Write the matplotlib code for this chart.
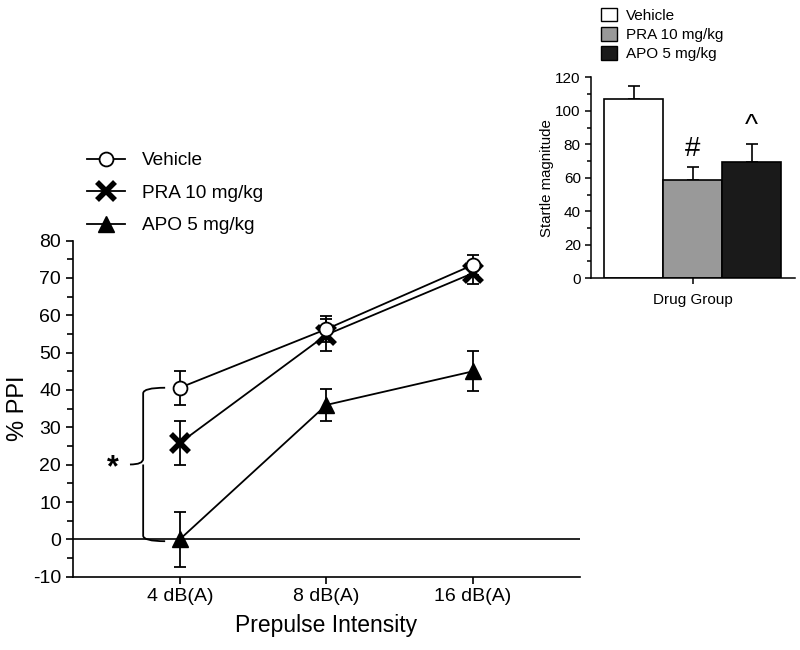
import matplotlib
matplotlib.use("Agg")
import matplotlib.pyplot as plt
import numpy as np
from matplotlib.path import Path
from matplotlib.patches import PathPatch, Patch
from matplotlib.lines import Line2D

plt.rcParams['font.family'] = ['Liberation Sans', 'DejaVu Sans']
plt.rcParams['axes.unicode_minus'] = False

# ---- data ----
intensities = ["4 dB(A)", "8 dB(A)", "16 dB(A)"]
vehicle_ppi = [40.6, 56.3, 73.5]
vehicle_err = [4.5, 3.5, 2.7]
pra_ppi = [25.8, 54.8, 71.3]
pra_err = [6.0, 4.3, 3.0]
apo_ppi = [0.0, 36.0, 45.0]
apo_err = [7.3, 4.2, 5.4]

groups = ["Vehicle", "PRA 10 mg/kg", "APO 5 mg/kg"]
startle = [107, 58.7, 69.4]
startle_err = [8, 7.6, 10.6]
bar_colors = ["white", "#999999", "#1a1a1a"]
bar_marks = ["", "#", "^"]

fig = plt.figure(figsize=(8, 6.5), dpi=100)
ax = fig.add_axes([0.091, 0.1128, 0.634, 0.517])

x = np.arange(len(intensities))
lw = 1.3
ebkw = dict(fmt='none', ecolor='black', elinewidth=lw, capsize=4, capthick=lw)
ax.errorbar(x, apo_ppi, yerr=apo_err, zorder=2, **ebkw)
ax.errorbar(x, pra_ppi, yerr=pra_err, zorder=2, **ebkw)
ax.errorbar(x, vehicle_ppi, yerr=vehicle_err, zorder=2, **ebkw)
ax.plot(x, apo_ppi, color='black', marker='^', ms=12, mfc='black', mec='black', lw=lw, zorder=3)
ax.plot(x, pra_ppi, color='black', marker='x', ms=13, mew=4, lw=lw, zorder=4)
ax.plot(x, vehicle_ppi, color='black', marker='o', ms=10, mfc='white', mec='black',
        mew=1.3, lw=lw, zorder=5)

ax.axhline(0, color='black', lw=1.2, zorder=1)
ax.set_xlim(-0.73, 2.73)
ax.set_ylim(-10, 80)
ax.set_yticks(np.arange(-10, 81, 10))
ax.set_yticks(np.arange(-10, 81, 5), minor=True)
ax.set_xticks(x)
ax.set_xticklabels(intensities)
ax.spines['top'].set_visible(False)
ax.spines['right'].set_visible(False)
ax.spines['left'].set_linewidth(1.2)
ax.spines['bottom'].set_linewidth(1.2)
ax.tick_params(axis='both', which='major', labelsize=14, length=5, width=1.2)
ax.tick_params(axis='y', which='minor', length=4, width=1.2)
ax.set_xlabel("Prepulse Intensity", fontsize=16.5, labelpad=6)
ax.set_ylabel("% PPI", fontsize=17, labelpad=3)

# brace between vehicle and APO at 4 dB
ytop = vehicle_ppi[0]
ybot = apo_ppi[0] - 0.5
ymid = (ytop + ybot) / 2
xs, xv, xt = -0.10, -0.25, -0.34
verts = [(xs, ytop), (xv, ytop), (xv, ytop - 1.5),
         (xv, ymid + 1.5), (xv, ymid), (xt, ymid),
         (xv, ymid), (xv, ymid - 1.5),
         (xv, ybot + 1.5), (xv, ybot), (xs, ybot)]
codes = [Path.MOVETO, Path.CURVE3, Path.CURVE3,
         Path.LINETO, Path.CURVE3, Path.CURVE3,
         Path.MOVETO, Path.CURVE3,
         Path.LINETO, Path.CURVE3, Path.CURVE3]
ax.add_patch(PathPatch(Path(verts, codes), fill=False, lw=1.3, ec='black', clip_on=False))
ax.text(-0.455, ymid - 1.0, "*", fontsize=22, fontweight='bold', ha='center', va='center')

handles = [
    Line2D([], [], color='black', lw=lw, marker='o', ms=10, mfc='white', mec='black', mew=1.3),
    Line2D([], [], color='black', lw=lw, marker='x', ms=13, mew=4),
    Line2D([], [], color='black', lw=lw, marker='^', ms=12, mfc='black'),
]
fig.legend(handles, ["Vehicle", "PRA 10 mg/kg", "APO 5 mg/kg"], loc='upper left',
           bbox_to_anchor=(0.097, 0.781), frameon=False, fontsize=13.7,
           handlelength=2.0, labelspacing=0.8, handletextpad=0.9, borderpad=0)

# ---- inset ----
ax2 = fig.add_axes([0.739, 0.572, 0.255, 0.309])
bx = np.arange(len(groups))
ax2.bar(bx, startle, width=1.0, color=bar_colors, edgecolor='black', lw=1.2, zorder=2)
ax2.errorbar(bx, startle, yerr=[np.zeros(3), startle_err], fmt='none', ecolor='black',
             elinewidth=1.2, capsize=4, capthick=1.2, zorder=1)
for i, m in enumerate(bar_marks):
    if m:
        ax2.text(bx[i], startle[i] + startle_err[i] + 3, m, ha='center', va='bottom', fontsize=20)
ax2.set_xlim(-0.72, 2.74)
ax2.set_ylim(0, 120)
ax2.set_yticks(np.arange(0, 121, 20))
ax2.set_yticks(np.arange(0, 121, 10), minor=True)
ax2.set_xticks([1])
ax2.set_xticklabels([""])
ax2.spines['top'].set_visible(False)
ax2.spines['right'].set_visible(False)
ax2.spines['left'].set_linewidth(1.1)
ax2.spines['bottom'].set_linewidth(1.1)
ax2.tick_params(axis='both', which='major', labelsize=11, length=4, width=1.1)
ax2.tick_params(axis='y', which='minor', length=3, width=1.1)
ax2.set_xlabel("Drug Group", fontsize=11, labelpad=3)
ax2.set_ylabel("Startle magnitude", fontsize=10.8, labelpad=1)

bh = [Patch(facecolor=c, edgecolor='black', lw=1.0) for c in bar_colors]
fig.legend(bh, groups, loc='upper left', bbox_to_anchor=(0.742, 1.0), frameon=False,
           fontsize=11, handlelength=1.0, handleheight=1.0, labelspacing=0.28,
           handletextpad=0.6, borderpad=0)

fig.savefig("out.png", dpi=100)
